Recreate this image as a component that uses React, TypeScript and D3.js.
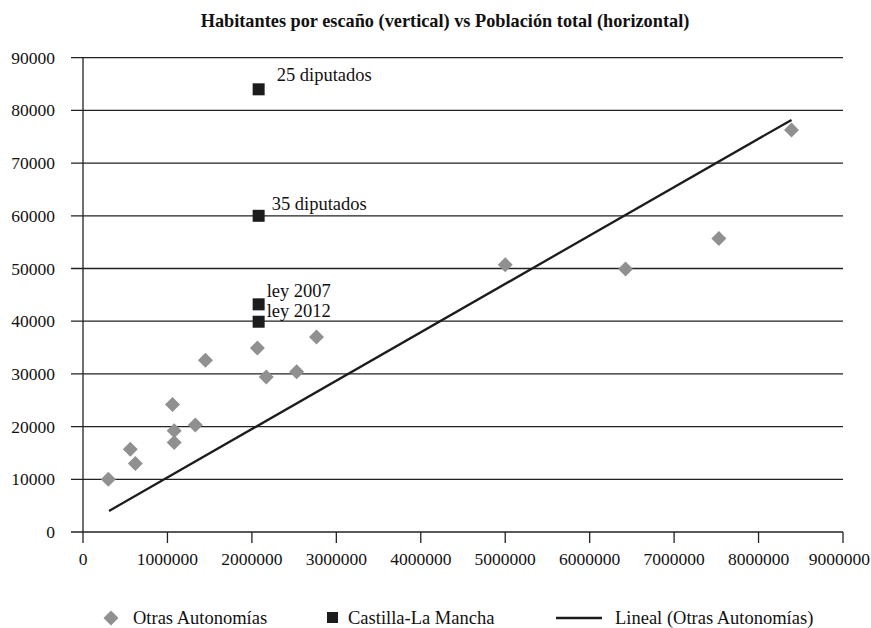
import React from "react";
import * as d3 from "d3";

// Otras Autonomías: población total vs habitantes por escaño
const otrasPoblacion = [300000, 560000, 620000, 1060000, 1080000, 1080000, 1330000, 1450000, 2065000, 2170000, 2530000, 2765000, 5000000, 6425000, 7530000, 8390000];
const otrasHabitantes = [10000, 15700, 13000, 24200, 19200, 17000, 20300, 32600, 34900, 29400, 30400, 37000, 50700, 49900, 55700, 76300];

// Castilla-La Mancha
const clmPoblacion = [2080000, 2080000, 2080000, 2080000];
const clmHabitantes = [84000, 60000, 43200, 39900];
const clmLabels = ["25 diputados", "35 diputados", "ley 2007", "ley 2012"];

// Lineal (Otras Autonomías), extremos
const trendX = [308000, 8390000];
const trendY = [4000, 78200];

const xTicks = [0, 1000000, 2000000, 3000000, 4000000, 5000000, 6000000, 7000000, 8000000, 9000000];
const yTicks = [0, 10000, 20000, 30000, 40000, 50000, 60000, 70000, 80000, 90000];

const title = "Habitantes por escaño (vertical) vs Población total (horizontal)";
const legendLabels = ["Otras Autonomías", "Castilla-La Mancha", "Lineal (Otras Autonomías)"];

export default function App() {
  const width = 871, height = 628;
  const margin = { top: 57.7, right: 28, bottom: 96, left: 83 };

  const x = d3.scaleLinear().domain([0, 9000000]).range([margin.left, width - margin.right]);
  const y = d3.scaleLinear().domain([0, 90000]).range([height - margin.bottom, margin.top]);

  const font = "'Liberation Serif', 'Times New Roman', serif";
  const gray = "#909090";
  const dark = "#1c1c1c";
  const fs = 17.5;
  const fsLab = 18.5;

  // rotated square = diamond of ~15px across
  const diamond = d3.symbol().type(d3.symbolSquare).size(112);
  const trendLine = d3.line<number>()
    .x((d, i) => x(trendX[i]))
    .y(d => y(d));

  // label offsets relative to each square (dx, dy)
  const labelOffset = [[18, -8], [13, -6], [8, -7], [8, -5]];

  const [x0, x1] = x.range();
  const [yb] = y.range();

  return (
    <svg width={width} height={height} style={{ position: "absolute", left: 0, top: 0, background: "#fff" }} fontFamily={font}>
      <text x={445} y={27} textAnchor="middle" fontWeight="bold" fontSize={18.3} fill="#111">{title}</text>

      {/* gridlines + y ticks */}
      {yTicks.map(t => (
        <g key={t}>
          <line x1={x0 - 12} x2={x1} y1={y(t)} y2={y(t)} stroke="#222" strokeWidth={1.3} />
          <text x={55} y={y(t) + 6} textAnchor="end" fontSize={fs} fill="#111">{t}</text>
        </g>
      ))}
      <line x1={x0} x2={x0} y1={y(90000)} y2={yb} stroke="#222" strokeWidth={1.3} />

      {/* x ticks */}
      {xTicks.map((t, i) => {
        const last = i === xTicks.length - 1;
        return (
          <g key={t}>
            <line x1={x(t)} x2={x(t)} y1={yb} y2={yb + 11} stroke="#222" strokeWidth={1.3} />
            <text x={last ? width - 1 : x(t)} y={yb + 33} textAnchor={last ? "end" : "middle"} fontSize={fs} fill="#111">{t}</text>
          </g>
        );
      })}

      {/* Otras Autonomías */}
      {otrasPoblacion.map((p, i) => (
        <path key={i} d={diamond()!} transform={`translate(${x(p)},${y(otrasHabitantes[i])}) rotate(45)`} fill={gray} />
      ))}

      {/* Lineal */}
      <path d={trendLine(trendY)!} fill="none" stroke={dark} strokeWidth={2.3} />

      {/* Castilla-La Mancha */}
      {clmPoblacion.map((p, i) => (
        <g key={i}>
          <rect x={x(p) - 6} y={y(clmHabitantes[i]) - 6} width={12} height={12} fill={dark} />
          <text x={x(p) + labelOffset[i][0]} y={y(clmHabitantes[i]) + labelOffset[i][1]} fontSize={fsLab} fill="#111">{clmLabels[i]}</text>
        </g>
      ))}

      {/* legend */}
      <g transform="translate(0,618)">
        <path d={diamond()!} transform="translate(111,0) rotate(45)" fill={gray} />
        <text x={133} y={6} fontSize={fsLab} fill="#111">{legendLabels[0]}</text>
        <rect x={327} y={-6} width={11} height={11} fill={dark} />
        <text x={348} y={6} fontSize={fsLab} fill="#111">{legendLabels[1]}</text>
        <line x1={556} x2={602} y1={0} y2={0} stroke={dark} strokeWidth={2.5} />
        <text x={615} y={6} fontSize={fsLab} fill="#111">{legendLabels[2]}</text>
      </g>
    </svg>
  );
}
